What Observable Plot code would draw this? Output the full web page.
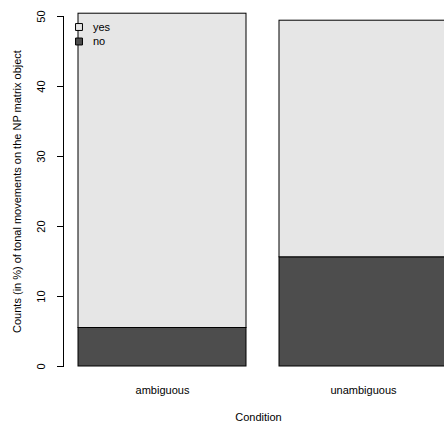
<!DOCTYPE html>
<html>
<head>
<meta charset="utf-8">
<script src="https://cdn.jsdelivr.net/npm/d3@7"></script>
<script src="https://cdn.jsdelivr.net/npm/@observablehq/plot@0.6"></script>
<style>
  html, body { margin: 0; padding: 0; background: white; overflow: hidden; }
  svg text { fill: #000; }
</style>
</head>
<body>
<div id="chart"></div>
<script>
const conditions = ["ambiguous", "unambiguous"];
const noValues = [5.5, 15.6];
const yesValues = [44.9, 33.8];
const responses = ["yes", "no"];
const responseColors = ["#e6e6e6", "#4d4d4d"];
const yTicks = [0, 10, 20, 30, 40, 50];
const yLabel = "Counts (in %) of tonal movements on the NP matrix object";
const xLabel = "Condition";

const data = [];
conditions.forEach((c, i) => {
  data.push({condition: c, response: "no", value: noValues[i]});
  data.push({condition: c, response: "yes", value: yesValues[i]});
});

const FS = 11;

const legendMarks = responses.flatMap((k, i) => [
  Plot.dot([k], {frameAnchor: "top-left", dx: 15.5, dy: 10.5 + 14.5 * i, symbol: "square", r: 3.9, fill: d => d, stroke: "black", strokeWidth: 1}),
  Plot.text([k], {frameAnchor: "top-left", dx: 29.5, dy: 10.5 + 14.5 * i, text: d => d, textAnchor: "start", lineAnchor: "middle", fill: "#000", fontSize: FS})
]);

const chart = Plot.plot({
  width: 444,
  height: 424,
  marginLeft: 63,
  marginRight: 0,
  marginTop: 16,
  marginBottom: 58,
  style: {fontFamily: "'Liberation Sans', Arial, Helvetica, sans-serif", fontSize: "11px", background: "white", color: "black"},
  x: {domain: conditions, range: [78, 447.6], paddingInner: 1 / 6, paddingOuter: 0, align: 0, label: null},
  y: {domain: [0, 50], label: null},
  color: {domain: responses, range: responseColors},
  marks: [
    Plot.barY(data, {x: "condition", y: "value", fill: "response", stroke: "black", strokeWidth: 1, inset: 0}),
    Plot.frame({anchor: "left", stroke: "black"}),
    Plot.axisY({ticks: yTicks, tickSize: 6, tickRotate: -90, tickPadding: 12.5, label: null, stroke: "black", fontSize: FS}),
    Plot.axisX({tickSize: 0, tickPadding: 20, label: null, fontSize: FS}),
    Plot.text([yLabel], {frameAnchor: "left", rotate: -90, dx: -46, text: d => d, textAnchor: "middle", lineAnchor: "middle", fontSize: FS, fill: "#000"}),
    Plot.text([xLabel], {frameAnchor: "bottom", dx: 4.5, dy: 51, text: d => d, textAnchor: "middle", lineAnchor: "middle", fontSize: FS, fill: "#000"}),
    ...legendMarks
  ]
});
document.getElementById("chart").appendChild(chart);
</script>
</body>
</html>
